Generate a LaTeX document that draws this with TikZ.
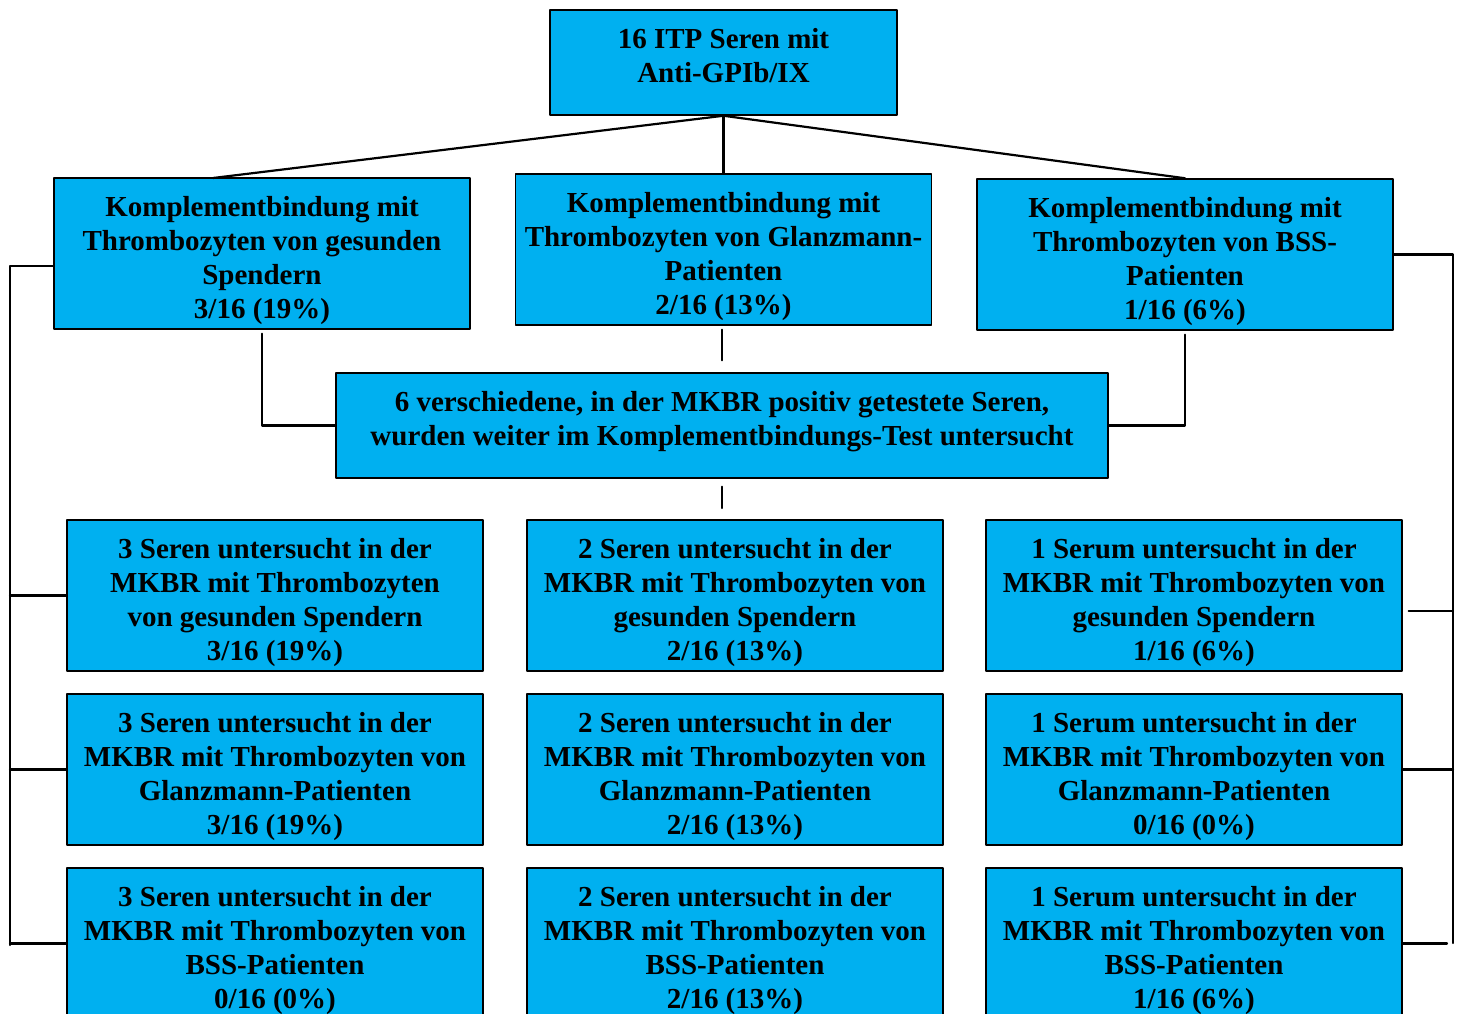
\documentclass[tikz,border=0pt]{standalone}
\usepackage{fontspec}
\setmainfont{Liberation Serif}
\definecolor{boxblue}{HTML}{00B0F0}
\newcommand{\topgap}{\rule{0pt}{34pt}}
\newcommand{\botgap}[1]{\rule[-#1]{0pt}{0pt}}
\begin{document}
\begin{tikzpicture}[x=1pt, y=-1pt, line cap=round, line join=round,
  box/.style={draw=black, line width=1.5pt, fill=boxblue, align=center, inner sep=0pt,
    font=\fontsize{29}{34}\selectfont\bfseries},
  wide/.style={box, minimum width=416pt, minimum height=151pt},
  conn/.style={draw=black, line width=2.2pt}]
    \useasboundingbox (0,0) rectangle (1457,1013);
    % --- 一番上の箱 ---
    \node[box, minimum width=347pt, minimum height=105pt] (itp) at (723.5,62.5) {16 ITP Seren mit\\Anti-GPIb/IX\botgap{14.5pt}};
    % --- 1段目(3つの箱) ---
    \node[wide] (kb1) at (262,253.5) {\topgap Komplementbindung mit\\Thrombozyten von gesunden\\Spendern\\3/16 (19\%)};
    \node[wide] (kb2) at (723.5,249.5) {\topgap Komplementbindung mit\\Thrombozyten von Glanzmann-\\Patienten\\2/16 (13\%)};
    \node[wide] (kb3) at (1185,254.5) {\topgap Komplementbindung mit\\Thrombozyten von BSS-\\Patienten\\1/16 (6\%)};
    % --- 中央の横長の箱 ---
    \node[box, minimum width=772pt, minimum height=105pt] (mkbr) at (722,425.5) {6 verschiedene, in der MKBR positiv getestete Seren,\\wurden weiter im Komplementbindungs-Test untersucht\botgap{14.3pt}};
    % --- 下の3x3 ---
    \node[wide] (ges1) at (275,595.5) {\topgap 3 Seren untersucht in der\\MKBR mit Thrombozyten\\von gesunden Spendern\\3/16 (19\%)};
    \node[wide] (ges2) at (735,595.5) {\topgap 2 Seren untersucht in der\\MKBR mit Thrombozyten von\\gesunden Spendern\\2/16 (13\%)};
    \node[wide] (ges3) at (1194,595.5) {\topgap 1 Serum untersucht in der\\MKBR mit Thrombozyten von\\gesunden Spendern\\1/16 (6\%)};
    \node[wide] (gla1) at (275,769.5) {\topgap 3 Seren untersucht in der\\MKBR mit Thrombozyten von\\Glanzmann-Patienten\\3/16 (19\%)};
    \node[wide] (gla2) at (735,769.5) {\topgap 2 Seren untersucht in der\\MKBR mit Thrombozyten von\\Glanzmann-Patienten\\2/16 (13\%)};
    \node[wide] (gla3) at (1194,769.5) {\topgap 1 Serum untersucht in der\\MKBR mit Thrombozyten von\\Glanzmann-Patienten\\0/16 (0\%)};
    \node[wide] (bss1) at (275,943.5) {\topgap 3 Seren untersucht in der\\MKBR mit Thrombozyten von\\BSS-Patienten\\0/16 (0\%)};
    \node[wide] (bss2) at (735,943.5) {\topgap 2 Seren untersucht in der\\MKBR mit Thrombozyten von\\BSS-Patienten\\2/16 (13\%)};
    \node[wide] (bss3) at (1194,943.5) {\topgap 1 Serum untersucht in der\\MKBR mit Thrombozyten von\\BSS-Patienten\\1/16 (6\%)};
    % 線の端
    \coordinate (kb1top) at (213,178);
    \coordinate (stub) at (722,508);
    \coordinate (lbot) at (10,945);
    \coordinate (rbot) at (1453,943);
    % --- 上から下へ3本 ---
    \draw[conn] (itp.south) -- (kb1top);
    \draw[conn] (itp.south) -- (kb2.north);
    \draw[conn] (itp.south) -- (kb3.north);
    % --- 1段目から中央の箱へ ---
    \draw[conn] ([yshift=-4pt]kb1.south) |- (mkbr.west);
    \draw[conn] ([yshift=-4pt]kb3.south) |- (mkbr.east);
    \draw[conn] ([yshift=-4pt]kb2.south -| mkbr.north) -- ([yshift=12pt]mkbr.north);
    \draw[conn] ([yshift=-8pt]mkbr.south) -- (stub);
    % --- 左の縦線 ---
    \draw[conn] ([yshift=-12.5pt]kb1.west) -| (lbot);
    \draw[conn] (ges1.west) -- (ges1.west -| lbot);
    \draw[conn] (gla1.west) -- (gla1.west -| lbot);
    \draw[conn] (bss1.west) -- (bss1.west -| lbot);
    % --- 右の縦線 ---
    \draw[conn] (kb3.east) -| (rbot);
    \draw[conn] ([shift={(6pt,-15.5pt)}]ges3.east) -- ([yshift=-15.5pt]ges3.east -| rbot);
    \draw[conn] (gla3.east) -- (gla3.east -| rbot);
    \draw[conn] (bss3.east) -- ([xshift=-6pt]bss3.east -| rbot);
\end{tikzpicture}
\end{document}
